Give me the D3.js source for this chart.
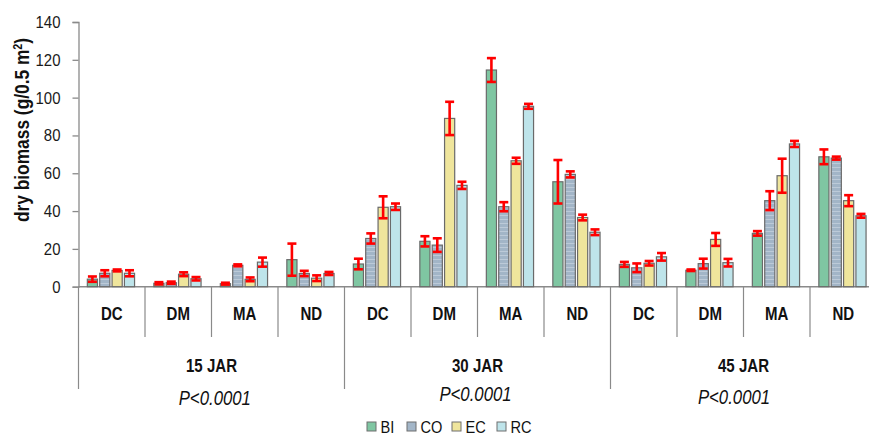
<!DOCTYPE html>
<html><head><meta charset="utf-8">
<script src="https://cdn.jsdelivr.net/npm/d3@7"></script>
<style>
html,body{margin:0;padding:0;background:#fff;}
svg{display:block;}
text{font-family:"Liberation Sans",Arial,sans-serif;}
</style></head>
<body>
<svg id="chart" width="869" height="435"></svg>
<script>
const groups = ["15 JAR", "30 JAR", "45 JAR"];
const sites = ["DC", "DM", "MA", "ND"];
const series = ["BI", "CO", "EC", "RC"];
const pLabels = ["P<0.0001", "P<0.0001", "P<0.0001"];
const yTicks = [0, 20, 40, 60, 80, 100, 120, 140];

const BI    = [4.0, 1.8, 1.6, 14.3, 12.0, 24.0, 114.6, 55.5, 11.8, 8.7, 28.2, 68.7];
const BIerr = [1.4, 0.6, 0.5, 8.5, 2.8, 2.7, 6.3, 11.5, 1.3, 0.4, 1.2, 3.9];
const CO    = [7.1, 2.1, 11.3, 7.0, 25.5, 22.0, 42.3, 59.4, 10.0, 12.2, 45.5, 68.0];
const COerr = [1.6, 0.6, 0.5, 1.4, 2.7, 3.6, 2.4, 1.6, 2.3, 2.6, 5.0, 0.8];
const EC    = [8.6, 6.6, 3.9, 4.5, 42.0, 89.0, 66.6, 36.6, 12.4, 25.0, 58.7, 45.5];
const ECerr = [0.5, 1.0, 1.0, 1.5, 5.8, 8.8, 1.6, 1.5, 1.2, 3.4, 9.0, 2.9];
const RC    = [7.1, 4.2, 13.0, 7.0, 42.3, 53.6, 95.4, 28.8, 15.8, 12.7, 75.5, 37.5];
const RCerr = [1.6, 0.9, 2.4, 0.8, 1.7, 1.9, 1.3, 1.5, 2.0, 2.0, 1.6, 1.0];

const valuesBySeries = {BI: BI, CO: CO, EC: EC, RC: RC};
const errBySeries = {BI: BIerr, CO: COerr, EC: ECerr, RC: RCerr};
const colors = {BI: "#7fc6a2", CO: "url(#coStripes)", EC: "#efe59c", RC: "#bee4ea"};
const legendColors = {BI: "#7fc6a2", CO: "#a3b6c8", EC: "#efe59c", RC: "#bee4ea"};

const svg = d3.select("#chart");
const defs = svg.append("defs");
const pat = defs.append("pattern").attr("id", "coStripes").attr("patternUnits", "userSpaceOnUse")
  .attr("width", 6).attr("height", 4);
pat.append("rect").attr("width", 6).attr("height", 4).attr("fill", "#a2b5c7");
pat.append("rect").attr("y", 3).attr("width", 6).attr("height", 1).attr("fill", "#bccad8");

// text with horizontal squeeze (narrow font look)
function sText(parent, x, y, str, size, sx, opts) {
  opts = opts || {};
  const g = parent.append("g").attr("transform", `translate(${x},${y}) scale(${sx},1)`);
  const t = g.append("text").attr("x", 0).attr("y", 0)
    .attr("text-anchor", opts.anchor || "middle")
    .attr("font-size", size).attr("fill", opts.fill || "#111");
  if (opts.bold) t.attr("font-weight", "bold");
  if (opts.italic) t.attr("font-style", "italic");
  t.text(str);
  return t;
}

const left = 78.5, catW = 66.5;
const keys = [];
groups.forEach(g => sites.forEach(s => keys.push(g + "|" + s)));
const x = d3.scaleBand().domain(keys).range([left, left + keys.length * catW]).padding(0);
const xi = d3.scaleBand().domain(series).range([0, catW]).paddingInner(0.18).paddingOuter(0.78);
const y = d3.scaleLinear().domain([0, 140]).range([286.7, 22]);

const axisColor = "#8a8a8a";

// Y axis
const tickSx = 0.88;
const yAxis = d3.axisLeft(y).tickValues(yTicks).tickSize(6).tickPadding(12).tickFormat(d3.format("d"));
const ya = svg.append("g").attr("transform", `translate(${left},0)`).call(yAxis);
ya.select(".domain").attr("stroke", axisColor).attr("stroke-width", 1.3);
ya.selectAll(".tick line").attr("stroke", axisColor).attr("stroke-width", 1.3);
ya.selectAll(".tick text").attr("font-size", 17).attr("fill", "#1a1a1a")
  .attr("font-family", "Liberation Sans, Arial, sans-serif")
  .attr("transform", `scale(${tickSx},1)`).attr("x", -18 / tickSx);

// Y title
const yt = svg.append("g").attr("transform", "translate(29,130) rotate(-90) scale(0.89,1)");
yt.append("text").attr("text-anchor", "middle")
  .attr("font-weight", "bold").attr("font-size", 19.5).attr("fill", "#111")
  .html('dry biomass (g/0.5 m<tspan dy="-7" font-size="12">2</tspan><tspan dy="7">)</tspan>');

// bottom axis line
svg.append("line").attr("x1", left).attr("x2", 869).attr("y1", y(0)).attr("y2", y(0))
  .attr("stroke", axisColor).attr("stroke-width", 1.5);

// dividers
keys.forEach((k, i) => {
  const xx = x(k);
  const isGroup = i % sites.length === 0;
  svg.append("line").attr("x1", xx).attr("x2", xx).attr("y1", y(0)).attr("y2", isGroup ? 389 : 337)
    .attr("stroke", axisColor).attr("stroke-width", 1.2);
});

// site labels
keys.forEach(k => {
  sText(svg, x(k) + catW / 2, 320, k.split("|")[1], 17.5, 0.86, {bold: true});
});

// group labels
const pOffsets = [3.3, -2, -9.5];
const pBase = [405, 401, 404];
groups.forEach((g, gi) => {
  const gx = x(g + "|" + sites[0]) + catW * sites.length / 2;
  sText(svg, gx, 372, g, 17.5, 0.86, {bold: true});
  sText(svg, gx + pOffsets[gi], pBase[gi], pLabels[gi], 19.5, 0.86, {italic: true});
});

// bars
const barG = svg.append("g");
series.forEach(s => {
  const vals = valuesBySeries[s];
  barG.selectAll(null).data(keys.map((k, i) => ({k, v: vals[i]}))).join("rect")
    .attr("x", d => x(d.k) + xi(s) - 0.8)
    .attr("y", d => y(d.v))
    .attr("width", xi.bandwidth())
    .attr("height", d => y(0) - y(d.v))
    .attr("fill", colors[s])
    .attr("stroke", "#6a6a6a").attr("stroke-width", 1.2);
});

// error bars
const errG = svg.append("g").attr("stroke", "#ff0000").attr("stroke-width", 2.6).attr("fill", "none");
series.forEach(s => {
  const vals = valuesBySeries[s], errs = errBySeries[s];
  keys.forEach((k, i) => {
    const cx = x(k) + xi(s) - 0.8 + xi.bandwidth() / 2;
    const lo = y(vals[i] - errs[i]), hi = y(vals[i] + errs[i]);
    errG.append("line").attr("x1", cx).attr("x2", cx).attr("y1", lo).attr("y2", hi);
    errG.append("line").attr("x1", cx - 4.5).attr("x2", cx + 4.5).attr("y1", lo).attr("y2", lo);
    errG.append("line").attr("x1", cx - 4.5).attr("x2", cx + 4.5).attr("y1", hi).attr("y2", hi);
  });
});

// legend
const legX = [367, 407, 452, 497];
const leg = svg.append("g");
series.forEach((s, i) => {
  leg.append("rect").attr("x", legX[i]).attr("y", 422).attr("width", 9).attr("height", 9)
    .attr("fill", legendColors[s]).attr("stroke", "#6f6f6f").attr("stroke-width", 1);
  sText(leg, legX[i] + 13.5, 432.5, s, 17, 0.86, {anchor: "start"});
});
</script>
</body></html>
